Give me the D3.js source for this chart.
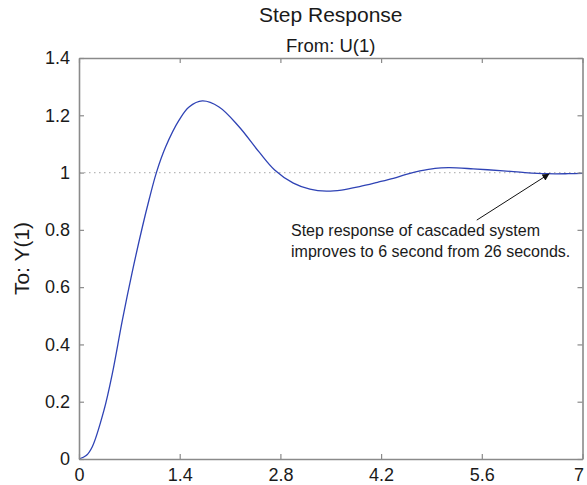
<!DOCTYPE html>
<html>
<head>
<meta charset="utf-8">
<script src="https://cdn.jsdelivr.net/npm/d3@7"></script>
<style>
  html, body { margin: 0; padding: 0; background: #fff; }
  svg { display: block; font-family: "Liberation Sans", Arial, Helvetica, sans-serif; }
</style>
</head>
<body>
<svg id="chart" width="587" height="485"></svg>
<script>
// Step response samples: time (s) and output amplitude
const timeSec = [0, 0.1, 0.185, 0.348, 0.464, 0.603, 0.742, 0.881, 0.974, 1.076,
  1.205, 1.391, 1.53, 1.715, 1.947, 2.225, 2.503, 2.72, 2.98, 3.21,
  3.44, 3.65, 3.9, 4.15, 4.37, 4.55, 4.74, 4.95, 5.15, 5.48,
  5.9, 6.2, 6.5, 6.8, 7.0];
const amplitude = [0, 0.012, 0.043, 0.171, 0.299, 0.485, 0.655, 0.81, 0.905, 1.0,
  1.09, 1.183, 1.229, 1.25, 1.229, 1.16, 1.072, 1.009, 0.963, 0.942,
  0.935, 0.939, 0.951, 0.966, 0.98, 0.994, 1.006, 1.015, 1.017, 1.013,
  1.006, 1.0, 0.996, 0.996, 0.997];

const xTicks = [0, 1.4, 2.8, 4.2, 5.6, 7];
const yTicks = [0, 0.2, 0.4, 0.6, 0.8, 1, 1.2, 1.4];
const xTickLabels = ["0", "1.4", "2.8", "4.2", "5.6", "7"];
const yTickLabels = ["0", "0.2", "0.4", "0.6", "0.8", "1", "1.2", "1.4"];
const steadyState = 1;

const titleText = "Step Response";
const subtitleText = "From: U(1)";
const yLabelText = "To: Y(1)";
const noteLines = ["Step response of cascaded system", "improves to 6 second from 26 seconds."];
// arrow: [tail point, head point] in data units
const arrowTail = [5.53, 0.834];
const arrowHead = [6.54, 0.996];

const svg = d3.select("#chart");
const margin = { left: 79, top: 58, right: 4.5, bottom: 26 };
const W = 587, H = 485;
const x = d3.scaleLinear().domain([0, 7]).range([margin.left, W - margin.right]);
const y = d3.scaleLinear().domain([0, 1.4]).range([H - margin.bottom, margin.top]);

const axisColor = "#8a8a8a";
const textColor = "#1a1a1a";

const defs = svg.append("defs");
defs.append("marker")
  .attr("id", "arrowhead")
  .attr("viewBox", "0 0 10 10")
  .attr("refX", 10).attr("refY", 5)
  .attr("markerWidth", 11).attr("markerHeight", 7)
  .attr("markerUnits", "userSpaceOnUse")
  .attr("orient", "auto")
  .append("path").attr("d", "M0,0 L10,5 L0,10 Z").attr("fill", "#111");

// steady-state reference line
svg.append("line")
  .attr("x1", x(0)).attr("x2", x(7))
  .attr("y1", y(steadyState)).attr("y2", y(steadyState))
  .attr("stroke", "#b8b8b8").attr("stroke-width", 1.2)
  .attr("stroke-dasharray", "1.5,3.5");

// response curve
const pts = timeSec.map((t, i) => [t, amplitude[i]]);
svg.append("path")
  .datum(pts)
  .attr("fill", "none")
  .attr("stroke", "#2f43b5")
  .attr("stroke-width", 1.3)
  .attr("d", d3.line().x(d => x(d[0])).y(d => y(d[1])).curve(d3.curveCatmullRom.alpha(0.5)));

// axes with inward ticks on all four sides
const tickLen = 5;
const bottomAxis = d3.axisBottom(x).tickValues(xTicks).tickSize(-tickLen).tickSizeOuter(0).tickPadding(9)
  .tickFormat((d, i) => xTickLabels[i]);
const topAxis = d3.axisTop(x).tickValues(xTicks).tickSize(-tickLen).tickSizeOuter(0).tickFormat("");
const leftAxis = d3.axisLeft(y).tickValues(yTicks).tickSize(-tickLen).tickSizeOuter(0).tickPadding(9)
  .tickFormat((d, i) => yTickLabels[i]);
const rightAxis = d3.axisRight(y).tickValues(yTicks).tickSize(-tickLen).tickSizeOuter(0).tickFormat("");

function styleAxis(g) {
  g.select(".domain").attr("stroke", axisColor).attr("stroke-width", 1.6);
  g.selectAll(".tick line").attr("stroke", axisColor).attr("stroke-width", 1.2);
  g.selectAll(".tick text").attr("fill", textColor).style("font-size", "18px")
    .style("font-family", "'Liberation Sans', Arial, sans-serif");
}

const gBottom = svg.append("g").attr("transform", `translate(0,${y(0)})`).call(bottomAxis).call(styleAxis);
// keep the last x label inside the frame
gBottom.selectAll(".tick text").filter(d => d === 7).attr("dx", -4);
svg.append("g").attr("transform", `translate(0,${y(1.4)})`).call(topAxis).call(styleAxis);
svg.append("g").attr("transform", `translate(${x(0)},0)`).call(leftAxis).call(styleAxis);
svg.append("g").attr("transform", `translate(${x(7)},0)`).call(rightAxis).call(styleAxis);

// titles
const cx = (x(0) + x(7)) / 2;
svg.append("text").attr("x", cx).attr("y", 22).attr("text-anchor", "middle")
  .attr("fill", textColor).style("font-size", "21px").text(titleText);
svg.append("text").attr("x", cx).attr("y", 52).attr("text-anchor", "middle")
  .attr("fill", textColor).style("font-size", "18.5px").text(subtitleText);
svg.append("text")
  .attr("transform", `translate(29,${(y(0) + y(1.4)) / 2}) rotate(-90)`)
  .attr("text-anchor", "middle")
  .attr("fill", textColor).style("font-size", "21px").text(yLabelText);

// annotation
svg.append("line")
  .attr("x1", x(arrowTail[0])).attr("y1", y(arrowTail[1]))
  .attr("x2", x(arrowHead[0])).attr("y2", y(arrowHead[1]))
  .attr("stroke", "#111").attr("stroke-width", 1)
  .attr("marker-end", "url(#arrowhead)");
const note = svg.append("text").attr("fill", textColor).style("font-size", "16px");
noteLines.forEach((line, i) => {
  note.append("tspan").attr("x", 291).attr("y", 236 + i * 21).text(line);
});
</script>
</body>
</html>
